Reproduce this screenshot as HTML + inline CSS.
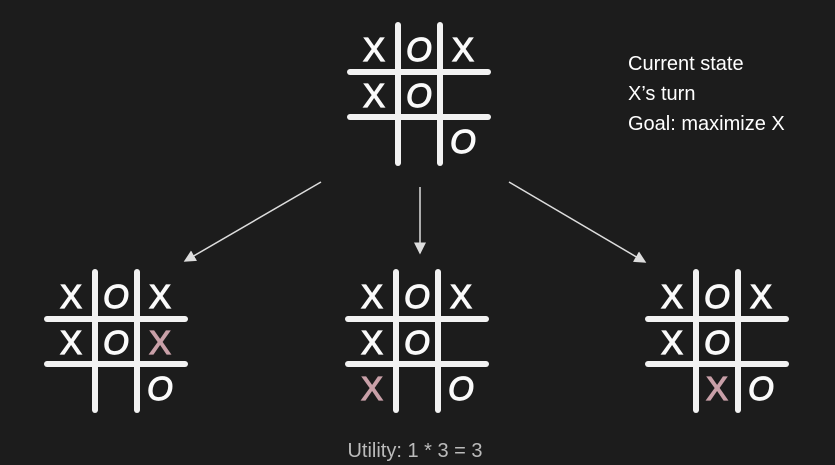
<!DOCTYPE html>
<html><head><meta charset="utf-8"><style>
html,body{margin:0;padding:0;background:#1c1c1c;}
svg{display:block;}
text{font-family:"Liberation Sans",sans-serif;}
</style></head><body>
<svg id="s" width="835" height="465" viewBox="0 0 835 465">
<defs><marker id="ah" markerWidth="8" markerHeight="8" refX="7" refY="4" orient="auto"><path d="M0,0 L8,4 L0,8 z" fill="#ddd"/></marker></defs>
<rect width="835" height="465" fill="#1c1c1c"/>
<g fill="#fff" font-size="20">
<text x="628" y="70">Current state</text>
<text x="628" y="100">X’s turn</text>
<text x="628" y="130">Goal: maximize X</text>
</g>
<g stroke="#ddd" stroke-width="1.5" marker-end="url(#ah)">
<line x1="321" y1="182" x2="185" y2="261"/>
<line x1="420" y1="187" x2="420" y2="253"/>
<line x1="509" y1="182" x2="645" y2="262"/>
</g>
<text x="415" y="457" text-anchor="middle" fill="#bbb" font-size="20">Utility: 1 * 3 = 3</text>
</svg>
<script>
const boards=[
 {name:'current-board',x:350,y:25,cells:['X','O','X','X','O','','','','O'],hi:-1},
 {name:'child-board-left',x:47,y:272,cells:['X','O','X','X','O','X','','','O'],hi:5},
 {name:'child-board-middle',x:348,y:272,cells:['X','O','X','X','O','','X','','O'],hi:6},
 {name:'child-board-right',x:648,y:272,cells:['X','O','X','X','O','','','X','O'],hi:7}
];
const svg=document.getElementById('s');
const NS='http://www.w3.org/2000/svg';
function mk(t,a){const e=document.createElementNS(NS,t);for(const k in a)e.setAttribute(k,a[k]);return e;}
boards.forEach(b=>{
 const g=mk('g',{});
 
 
 const ls=[[b.x+48,b.y,b.x+48,b.y+138],[b.x+90,b.y,b.x+90,b.y+138],[b.x,b.y+47,b.x+138,b.y+47],[b.x,b.y+92,b.x+138,b.y+92]];
 ls.forEach(l=>{const e=mk('line',{x1:l[0],y1:l[1],x2:l[2],y2:l[3],stroke:'#f2f2f2','stroke-width':6,'stroke-linecap':'round'});
  
  
  g.appendChild(e);});
 const cx=[b.x+24,b.x+69,b.x+113],cy=[b.y+24,b.y+70,b.y+116];
 b.cells.forEach((c,i)=>{if(!c)return;
  const col=i===b.hi?'#c9a0a8':'#fafafa';
  const t=mk('text',{x:cx[i%3],y:cy[Math.floor(i/3)]+12,'text-anchor':'middle','font-size':33,fill:col,stroke:col,'stroke-width':1.2,'font-style':c==='O'?'italic':'normal'});
  t.textContent=c;
  
  
  g.appendChild(t);});
 svg.appendChild(g);
});
</script>
</body></html>
